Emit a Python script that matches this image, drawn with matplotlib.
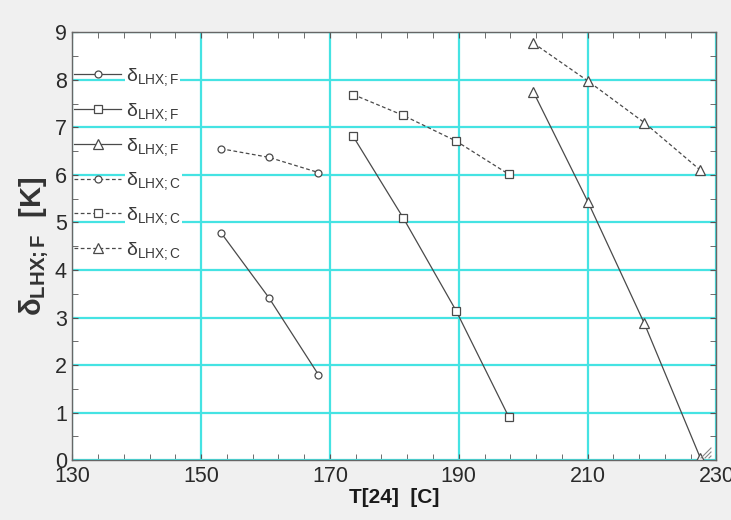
import numpy as np
import matplotlib
matplotlib.use("Agg")
from matplotlib import pyplot as plt
from matplotlib.lines import Line2D
from matplotlib.ticker import MultipleLocator

plt.rcParams['font.family'] = ['Liberation Sans', 'DejaVu Sans']
plt.rcParams['mathtext.fontset'] = 'custom'
plt.rcParams['mathtext.rm'] = 'Liberation Sans'
plt.rcParams['mathtext.it'] = 'Liberation Sans'
plt.rcParams['mathtext.bf'] = 'Liberation Sans:bold'

# data
t_circ = [153.1, 160.5, 168.2]
f_circ = [4.78, 3.42, 1.80]
c_circ = [6.55, 6.37, 6.05]

t_sq = [173.6, 181.4, 189.6, 197.8]
f_sq = [6.81, 5.09, 3.14, 0.90]
c_sq = [7.69, 7.25, 6.71, 6.01]

t_tri = [201.6, 210.1, 218.8, 227.5]
f_tri = [7.74, 5.42, 2.88, 0.05]
c_tri = [8.77, 7.97, 7.10, 6.10]

lab_F = 'δ$_{\\mathrm{LHX;F}}$'
lab_C = 'δ$_{\\mathrm{LHX;C}}$'

ink = '#4a4a4a'
cyan = '#45e3e3'

fig = plt.figure(figsize=(7.31, 5.20), dpi=100, facecolor='#f0f0f0')
ax = fig.add_axes([0.099, 0.115, 0.881, 0.823])
ax.set_facecolor('white')

kw = dict(color=ink, lw=0.9, mfc='white', mec=ink, mew=0.9)
ax.plot(t_circ, f_circ, ls='-', marker='o', ms=5, label=lab_F, **kw)
ax.plot(t_sq, f_sq, ls='-', marker='s', ms=6, label=lab_F, **kw)
ax.plot(t_tri, f_tri, ls='-', marker='^', ms=6.5, label=lab_F, **kw)
ax.plot(t_circ, c_circ, ls=(0, (3, 2)), marker='o', ms=5, label=lab_C, **kw)
ax.plot(t_sq, c_sq, ls=(0, (3, 2)), marker='s', ms=6, label=lab_C, **kw)
ax.plot(t_tri, c_tri, ls=(0, (3, 2)), marker='^', ms=6.5, label=lab_C, **kw)

ax.set_xlim(130, 230)
ax.set_ylim(0, 9)
ax.xaxis.set_major_locator(MultipleLocator(20, offset=10))
ax.xaxis.set_minor_locator(MultipleLocator(4, offset=2))
ax.yaxis.set_major_locator(MultipleLocator(1))
ax.yaxis.set_minor_locator(MultipleLocator(0.5))
ax.grid(True, which='major', color=cyan, lw=1.6)
ax.set_axisbelow(True)
ax.tick_params(which='both', direction='in', top=True, right=True,
               colors='#555555', labelcolor='#2a2a2a', labelsize=15.5, pad=4)
ax.tick_params(which='major', length=4)
ax.tick_params(which='minor', length=4)
for s in ax.spines.values():
    s.set_color('#666666')
    s.set_linewidth(1.0)

ax.set_xlabel('T[24]  [C]', fontsize=15, fontweight='bold', color='#1a1a1a', labelpad=1)
ax.set_ylabel('δ$_{\\mathbf{LHX;F}}$  [K]', fontsize=21, fontweight='bold', color='#333333',
              labelpad=3)

leg = ax.legend(loc='upper left', bbox_to_anchor=(0.0, 0.925), frameon=False,
                fontsize=14, handlelength=2.4, handletextpad=0.25, labelspacing=0.66,
                borderaxespad=0.0, borderpad=0.1)
for t in leg.get_texts():
    t.set_color('#3a3a3a')
    t.set_bbox(dict(facecolor='white', edgecolor='none', pad=0.5))

# little window resize grip in the corner
for d in [0, 4, 8]:
    fig.add_artist(Line2D([(701 + d) / 731, (711) / 731],
                          [1 - 458 / 520, 1 - (458 - 10 + d) / 520],
                          color='#888888', lw=0.8))

plt.savefig('out.png', dpi=100, facecolor=fig.get_facecolor())
